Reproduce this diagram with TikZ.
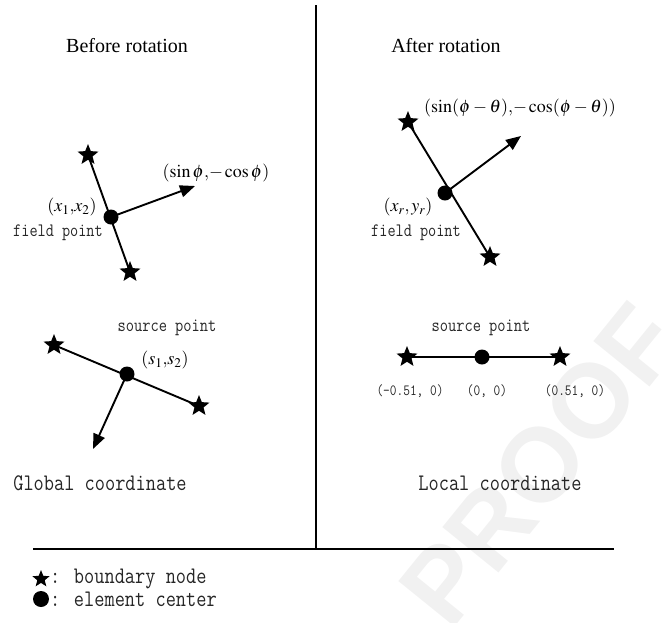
\documentclass[tikz,border=0pt]{standalone}
\usepackage{mathptmx}
\usepackage{fontspec}
\setmainfont{Liberation Serif}
\setsansfont{Liberation Sans}
\usetikzlibrary{shapes.geometric,arrows.meta}
\newcommand{\mtxt}[2]{\scalebox{1}[1.2]{\fontsize{#1}{#1}\ttfamily #2}}
\begin{document}
\begin{tikzpicture}[x=1pt,y=-1pt,
  bnode/.style={star, star points=5, star point ratio=2.3, fill=black, inner sep=0pt, minimum size=22pt},
  cdot/.style={circle, fill=black, inner sep=0pt, minimum size=15pt},
  ln/.style={line width=1.9pt},
  arr/.style={line width=1.9pt, -{Triangle[length=15pt,width=12pt]}},
  lab/.style={inner sep=0pt, text=black!85},
  mlab/.style={inner sep=0pt, font=\fontsize{18}{20}\selectfont},
  ttl/.style={inner sep=0pt, font=\fontsize{20}{22}\selectfont},
]
\useasboundingbox (0,0) rectangle (662,622);
% watermark
\node[rotate=51, text=gray!11, font=\fontsize{105}{105}\selectfont\bfseries\sffamily] (wm) at (540,465) {PROOF};

% frame lines
\coordinate (vt) at (316,5);
\coordinate (vb) at (316,549);
\coordinate (hl) at (33,549);
\coordinate (hr) at (614,549);
\draw[ln] (vt) -- (vb);
\draw[ln] (hl) -- (hr);

% titles
\node[ttl] (t1) at (127,46) {Before rotation};
\node[ttl] (t2) at (446,46) {After rotation};

% ---- left top
\node[bnode] (s1) at (88,155) {};
\node[bnode] (s2) at (130,272) {};
\coordinate (a1) at (195,186);
\draw[ln] (s1.center) -- (s2.center);
\node[cdot] (d1) at (111,217) {};
\draw[arr] (d1.center) -- (a1);
\node[mlab] (l1) at (216,173) {$(\sin\phi{,}{-}\cos\phi)$};
\node[mlab] (l2) at (72,207) {$(x_1{,}x_2)$};
\node[lab] (l3) at (58,233) {\mtxt{15.8}{field point}};

% ---- right top
\node[bnode] (s3) at (408,122) {};
\node[bnode] (s4) at (490,257) {};
\coordinate (a2) at (521,136);
\draw[ln] (s3.center) -- (s4.center);
\node[cdot] (d2) at (445,193) {};
\draw[arr] (d2.center) -- (a2);
\node[mlab] (l4) at (520,108) {$(\sin(\phi-\theta){,}{-}\cos(\phi-\theta))$};
\node[mlab] (l5) at (408,207) {$(x_r,y_r)$};
\node[lab] (l6) at (416,233) {\mtxt{15.8}{field point}};

% ---- left bottom
\node[bnode] (s5) at (54,345) {};
\node[bnode] (s6) at (199,406) {};
\coordinate (a3) at (93,449);
\draw[ln] (s5.center) -- (s6.center);
\node[cdot] (d3) at (127,374) {};
\draw[arr] (d3.center) -- (a3);
\node[lab] (l7) at (167,328) {\mtxt{16}{source point}};
\node[mlab] (l8) at (165,360) {$(s_1{,}s_2)$};
\node[lab] (l9) at (100,483) {\mtxt{19.8}{Global coordinate}};

% ---- right bottom
\node[bnode] (s7) at (407,357) {};
\node[bnode] (s8) at (560,357) {};
\draw[ln] (s7.center) -- (s8.center);
\node[cdot] (d4) at (482,357) {};
\node[lab] (l10) at (481,328) {\mtxt{16}{source point}};
\node[lab] (l11) at (410,391) {\mtxt{13}{(-0.51, 0)}};
\node[lab] (l12) at (487,391) {\mtxt{13}{(0, 0)}};
\node[lab] (l13) at (575,391) {\mtxt{13}{(0.51, 0)}};
\node[lab] (l14) at (500,483) {\mtxt{19.8}{Local coordinate}};

% ---- legend
\node[bnode, minimum size=18pt] (ls) at (41,579) {};
\node[cdot, minimum size=16pt] (ld) at (41,599) {};
\node[lab, anchor=west] (lt1) at (50,579) {\mtxt{19.8}{: boundary node}};
\node[lab, anchor=west] (lt2) at (50,599) {\mtxt{19.8}{: element center}};
\end{tikzpicture}
\end{document}
